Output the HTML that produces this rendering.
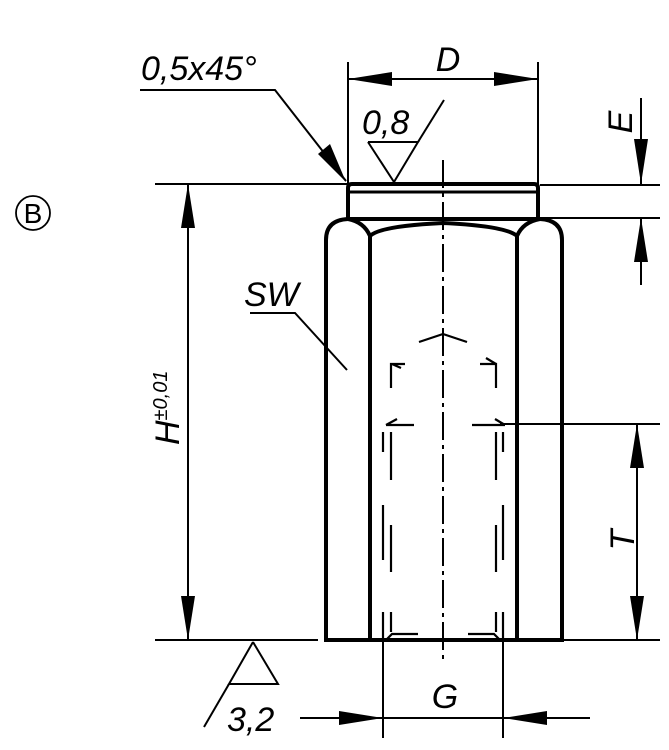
<!DOCTYPE html>
<html><head><style>body{margin:0;background:#fff}svg{display:block}text{font-family:"Liberation Sans Narrow","Liberation Sans",sans-serif;font-style:italic;fill:#000}</style></head>
<body>
<svg width="669" height="750" viewBox="0 0 669 750" xmlns="http://www.w3.org/2000/svg">
<g stroke="#000" fill="none">
<circle cx="33" cy="213" r="17" stroke-width="1.8"/>
<g stroke-width="4">
<path d="M326,640 V240 Q326,220 348,219 H540 Q562,220 562,240 V640 Z"/>
<line x1="370" y1="236" x2="370" y2="640"/>
<line x1="517" y1="236" x2="517" y2="640"/>
<path d="M370,236 Q364,222 348,219"/>
<path d="M517,236 Q523,222 540,219"/>
<path d="M370,236 Q380,226 443,223 Q506,226 517,236"/>
<path d="M348,219 V188 Q348,184 352,184 H534 Q538,184 538,188 V219"/>
</g>
<line x1="348" y1="192" x2="538" y2="192" stroke-width="3"/>
<line x1="443" y1="160" x2="443" y2="660" stroke-width="2" stroke-dasharray="28,5,4,5"/>
<g stroke-width="2.2">
<polyline points="419,342 443,334 467,342" fill="none"/>
<path d="M405,364 L391,364 L391,388 M401,368 L392,364"/>
<path d="M480,364 L496,364 L496,388 M486,358 L496,364"/>
<path d="M414,425 L386,425 M397,419 L386,425"/>
<path d="M472,425 L505,425 M495,419 L505,425"/>
<line x1="383" y1="432" x2="383" y2="452"/>
<line x1="503" y1="432" x2="503" y2="452"/>
<line x1="391" y1="432" x2="391" y2="480"/>
<line x1="496" y1="432" x2="496" y2="480"/>
<line x1="383" y1="505" x2="383" y2="560"/>
<line x1="503" y1="505" x2="503" y2="560"/>
<line x1="391" y1="525" x2="391" y2="572"/>
<line x1="496" y1="525" x2="496" y2="572"/>
<line x1="383" y1="612" x2="383" y2="640"/>
<line x1="503" y1="612" x2="503" y2="640"/>
<line x1="391" y1="612" x2="391" y2="632"/>
<line x1="496" y1="612" x2="496" y2="632"/>
<path d="M418,634 H392 L386,640"/>
<path d="M468,634 H494 L500,640"/>
</g>
<g stroke-width="2">
<line x1="155" y1="184" x2="348" y2="184"/>
<line x1="540" y1="185" x2="660" y2="185"/>
<line x1="540" y1="218" x2="660" y2="218"/>
<line x1="155" y1="640" x2="318" y2="640"/>
<line x1="562" y1="640" x2="660" y2="640"/>
<line x1="500" y1="424" x2="660" y2="424"/>
<line x1="348" y1="62" x2="348" y2="184"/>
<line x1="538" y1="62" x2="538" y2="184"/>
<line x1="348" y1="79" x2="538" y2="79"/>
<polyline points="140,90 275,90 346,181"/>
<polyline points="368,142 418,142 394,182 368,142"/>
<line x1="418" y1="142" x2="444" y2="100"/>
<line x1="641" y1="98" x2="641" y2="184"/>
<line x1="641" y1="218" x2="641" y2="285"/>
<line x1="188" y1="184" x2="188" y2="640"/>
<line x1="637" y1="424" x2="637" y2="640"/>
<line x1="383" y1="640" x2="383" y2="738"/>
<line x1="503" y1="640" x2="503" y2="738"/>
<line x1="300" y1="718" x2="590" y2="718"/>
<polyline points="253,642 278,684 229,684 253,642"/>
<line x1="229" y1="684" x2="204" y2="727"/>
<polyline points="250,313 295,313 347,370"/>
</g>
</g>
<g fill="#000">
<polygon points="348,79 392,72 392,86"/>
<polygon points="538,79 494,72 494,86"/>
<polygon points="346,182 318,154 330,144"/>
<polygon points="641,184 634,139 648,139"/>
<polygon points="641,218 634,262 648,262"/>
<polygon points="188,184 181,228 195,228"/>
<polygon points="188,640 181,596 195,596"/>
<polygon points="637,424 630,468 644,468"/>
<polygon points="637,640 630,596 644,596"/>
<polygon points="383,718 339,711 339,725"/>
<polygon points="503,718 547,711 547,725"/>
</g>
<text x="33" y="223" font-size="28" text-anchor="middle" style="font-style:normal">B</text>
<text x="141" y="80" font-size="34">0,5x45°</text>
<text x="448" y="71" font-size="34" text-anchor="middle">D</text>
<text x="362" y="134" font-size="34">0,8</text>
<text x="244" y="306" font-size="34">SW</text>
<text x="445" y="708" font-size="34" text-anchor="middle">G</text>
<text x="227" y="731" font-size="34">3,2</text>
<text transform="translate(632,122) rotate(-90)" font-size="34" text-anchor="middle">E</text>
<text transform="translate(634,540) rotate(-90)" font-size="34" text-anchor="middle">T</text>
<text transform="translate(179,445) rotate(-90)" font-size="34">H<tspan font-size="20" dy="-12">±0,01</tspan></text>
</svg>
</body></html>
